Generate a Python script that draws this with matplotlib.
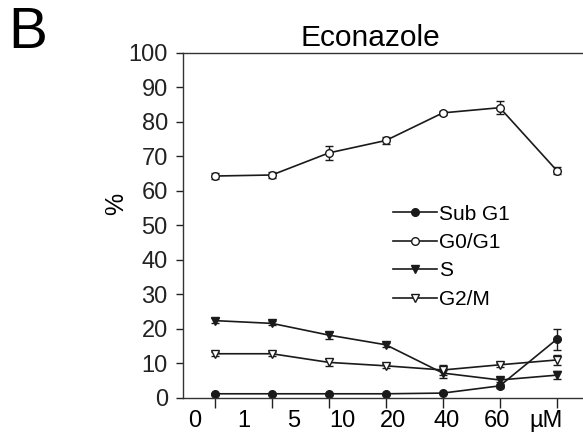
import matplotlib
matplotlib.use("Agg")
import matplotlib.pyplot as plt
import numpy as np

plt.rcParams['font.family'] = ['Liberation Sans', 'DejaVu Sans']

# doses (x categories) and tick labels
doses = np.arange(7)
dose_labels = ['0', '1', '5', '10', '20', '40', '60', 'µM']
label_pos = [-0.36, 0.51, 1.38, 2.24, 3.12, 4.06, 4.95, 5.82]

# cell cycle fractions (%)
sub_g1 = [1.2, 1.2, 1.2, 1.2, 1.4, 3.5, 17.0]
sub_g1_err = [0.3, 0.3, 0.3, 0.3, 0.3, 0.6, 3.0]
g0_g1 = [64.3, 64.6, 71.0, 74.6, 82.6, 84.1, 65.9]
g0_g1_err = [0.8, 0.8, 2.1, 1.0, 0.6, 1.8, 1.0]
s_phase = [22.4, 21.6, 18.2, 15.4, 7.2, 5.2, 6.6]
s_phase_err = [0.8, 0.6, 1.0, 0.6, 1.5, 0.6, 1.2]
g2_m = [12.8, 12.8, 10.3, 9.3, 8.1, 9.6, 11.0]
g2_m_err = [0.6, 0.6, 1.0, 0.6, 1.5, 0.6, 1.5]

fig = plt.figure(figsize=(5.83, 4.33), dpi=100)
ax = fig.add_axes([0.314, 0.081, 0.686, 0.797])

col = '#1a1a1a'
series = [
    ('Sub G1', sub_g1, sub_g1_err, 'o', col),
    ('G0/G1', g0_g1, g0_g1_err, 'o', 'white'),
    ('S', s_phase, s_phase_err, 'v', col),
    ('G2/M', g2_m, g2_m_err, 'v', 'white'),
]
for name, vals, err, mk, fc in series:
    ax.errorbar(doses, vals, yerr=err, fmt='none', ecolor=col,
                capsize=3, elinewidth=1, capthick=1)
    ax.plot(doses, vals, color=col, lw=1.2, marker=mk, ms=5.5,
            mfc=fc, mec=col, mew=1, label=name)

ax.set_xlim(-0.56, 6.46)
ax.set_ylim(0, 100)
ax.set_yticks(np.arange(0, 101, 10))
ax.tick_params(axis='y', labelsize=17, length=5, width=1, pad=6, colors='#222')
ax.set_xticks(doses)
ax.set_xticklabels([])
ax.tick_params(axis='x', which='major', length=7, width=1, colors='#222')
ax.set_xticks(label_pos, minor=True)
ax.set_xticklabels(dose_labels, minor=True)
ax.tick_params(axis='x', which='minor', length=0, labelsize=17, pad=9)

for sp in ['left', 'top', 'bottom']:
    ax.spines[sp].set_color('#333')
    ax.spines[sp].set_linewidth(1)
ax.spines['right'].set_visible(False)

ax.set_title('Econazole', fontsize=21.5, x=0.468, pad=5)
fig.text(0.2, 0.53, '%', fontsize=18, rotation=90, ha='center', va='center')
fig.text(0.015, 0.985, 'B', fontsize=42, ha='left', va='top')

ax.legend(loc='upper left', bbox_to_anchor=(0.525, 0.56), frameon=False,
          fontsize=15, handlelength=2.1, handletextpad=0.1,
          borderpad=0, borderaxespad=0, labelspacing=0.45)

fig.savefig('out.png', dpi=100)
